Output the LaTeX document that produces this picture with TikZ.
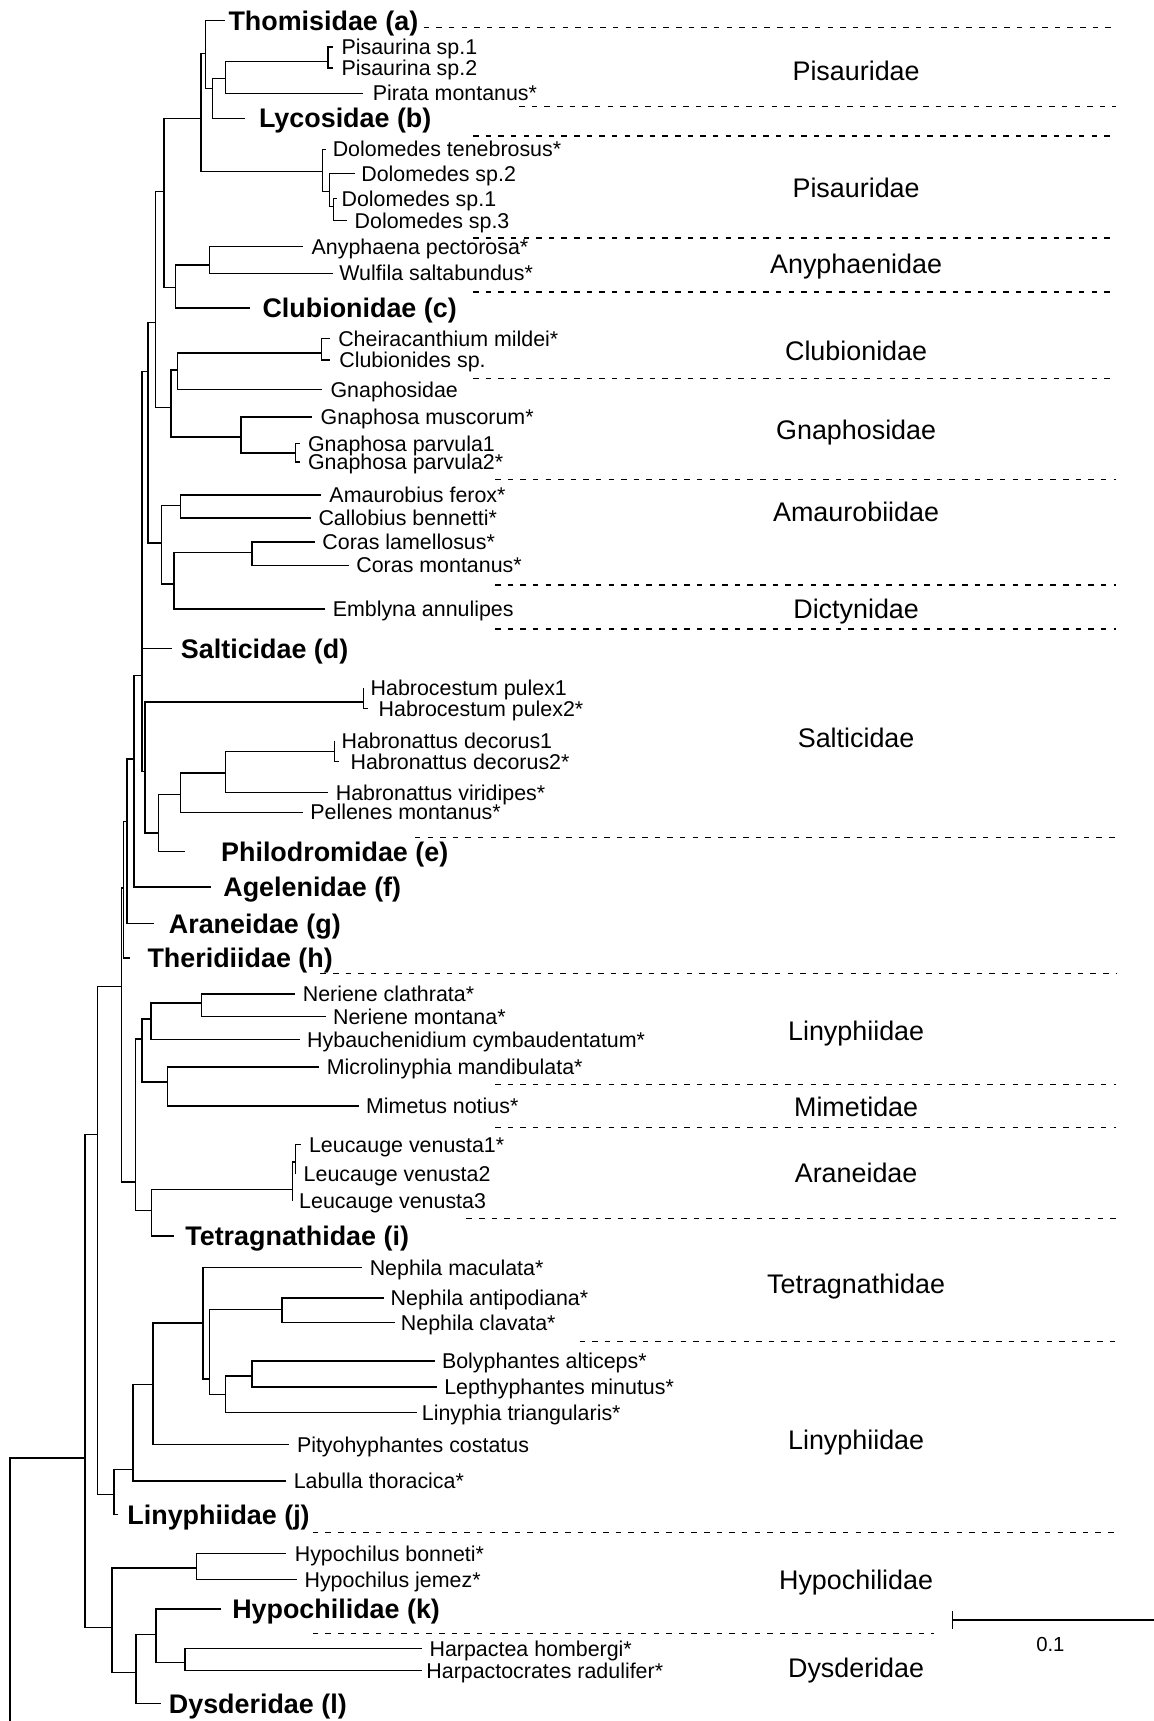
\documentclass[tikz,border=0pt]{standalone}
\usepackage{fontspec}
\setmainfont{Liberation Sans}
\newcommand\mkleaf[6]{\coordinate (#1) at (#2,#4); \node[#5] (#1L) at (#3,#4) {#6};}
\newcommand\mksep[4]{\coordinate (#1s) at (#2,#3); \coordinate (#1e) at (#4,#3); \draw[sepline] (#1s) -- (#1e);}
\begin{document}
\begin{tikzpicture}[x=1pt,y=-1pt,
  br/.style={line width=1.3pt},
  sepline/.style={line width=1.3pt, dash pattern=on 5pt off 6.5pt},
  sp/.style={anchor=base west, inner sep=0pt, font=\fontsize{19.5}{21}\selectfont, yshift=-7pt},
  fam/.style={anchor=base west, inner sep=0pt, font=\fontsize{24.5}{26}\selectfont\bfseries, yshift=-8.8pt},
  grp/.style={anchor=base, inner sep=0pt, font=\fontsize{24.5}{26}\selectfont, yshift=-8.8pt},
  sbl/.style={anchor=base, inner sep=0pt, font=\fontsize{18.5}{20}\selectfont, yshift=-6.6pt}]
\fill[white] (0,0) rectangle (1051,1568);
\useasboundingbox (0,0) rectangle (1051,1568);
% internal nodes
\coordinate (r0) at (9,1568);
\coordinate (K) at (77.3,1328.2);
\coordinate (I) at (88.6,1033.7);
\coordinate (H) at (110.6,898.6);
\coordinate (G) at (112.5,809);
\coordinate (F) at (115.9,748.3);
\coordinate (E) at (122,691.5);
\coordinate (C) at (129.5,615.3);
\coordinate (B) at (135,338.5);
\coordinate (A) at (141.5,293.9);
\coordinate (P) at (149.6,174.6);
\coordinate (N183) at (183,107.8);
\coordinate (N187) at (187,48.6);
\coordinate (N193) at (193.5,80.5);
\coordinate (PIS) at (205.3,71.3);
\coordinate (PS) at (299,56.2);
\coordinate (DOL) at (293.6,156.4);
\coordinate (D2) at (300,174.6);
\coordinate (D3) at (304,188);
\coordinate (AC) at (159.8,262);
\coordinate (ANY) at (191,241.3);
\coordinate (CG) at (155.7,371.3);
\coordinate (CHG) at (161.8,337);
\coordinate (CH) at (292.8,321.8);
\coordinate (GN) at (219.6,398.3);
\coordinate (GP) at (269.2,412.9);
\coordinate (AM) at (147.2,494.8);
\coordinate (AF) at (164.7,460.8);
\coordinate (CE) at (158.6,531.9);
\coordinate (CO) at (229.7,503.3);
\coordinate (R) at (132,702.8);
\coordinate (HB) at (331.4,639.6);
\coordinate (SN) at (144.3,759);
\coordinate (HP) at (164.7,724);
\coordinate (HN) at (205.3,704.3);
\coordinate (HDc) at (305,684.6);
\coordinate (LC) at (123.2,1076.9);
\coordinate (NL) at (129.3,946.5);
\coordinate (NH) at (137.4,928.3);
\coordinate (NN) at (183.8,913.7);
\coordinate (MM) at (152.5,985.8);
\coordinate (LT) at (138.2,1103);
\coordinate (LEU) at (266.3,1083.8);
\coordinate (L2) at (269.2,1058.6);
\coordinate (J) at (103.7,1361.6);
\coordinate (LB) at (121.2,1338.8);
\coordinate (PY) at (139.5,1261.4);
\coordinate (T) at (185,1205.3);
\coordinate (T2) at (191.1,1256.3);
\coordinate (NE) at (257,1193.1);
\coordinate (LI) at (205.3,1270.5);
\coordinate (BL) at (229.7,1253.8);
\coordinate (HDn) at (102,1483);
\coordinate (HY) at (178.9,1428.4);
\coordinate (DY) at (124,1524);
\coordinate (HK) at (142.3,1489.1);
\coordinate (HA) at (168.7,1514.9);
% leaves: name, tip x, label x, y, style, text
\mkleaf{tThom}{205.3}{208}{18.8}{fam}{Thomisidae (a)}
\mkleaf{tPis1}{303}{311}{43}{sp}{Pisaurina sp.1}
\mkleaf{tPis2}{303}{311}{62}{sp}{Pisaurina sp.2}
\mkleaf{tPir}{331}{339.5}{85}{sp}{Pirata montanus*}
\mkleaf{tLyco}{223.6}{235.8}{107.8}{fam}{Lycosidae (b)}
\mkleaf{tTen}{297}{303}{136}{sp}{Dolomedes tenebrosus*}
\mkleaf{tDsp2}{323}{329}{158}{sp}{Dolomedes sp.2}
\mkleaf{tDsp1}{307}{311}{181}{sp}{Dolomedes sp.1}
\mkleaf{tDsp3}{316}{323}{201}{sp}{Dolomedes sp.3}
\mkleaf{tAny}{276.5}{283.8}{224.5}{sp}{Anyphaena pectorosa*}
\mkleaf{tWul}{303}{309}{249}{sp}{Wulfila saltabundus*}
\mkleaf{tClub}{227.7}{239}{280.5}{fam}{Clubionidae (c)}
\mkleaf{tChe}{300.9}{308}{308.5}{sp}{Cheiracanthium mildei*}
\mkleaf{tClu}{300.9}{309}{328}{sp}{Clubionides sp.}
\mkleaf{tGnd}{293.6}{301}{355}{sp}{Gnaphosidae}
\mkleaf{tGmus}{284.6}{292}{380}{sp}{Gnaphosa muscorum*}
\mkleaf{tGp1}{273}{280.5}{404}{sp}{Gnaphosa parvula1}
\mkleaf{tGp2}{273}{280.5}{421}{sp}{Gnaphosa parvula2*}
\mkleaf{tAmau}{292.8}{300}{451}{sp}{Amaurobius ferox*}
\mkleaf{tCall}{283.4}{290}{472}{sp}{Callobius bennetti*}
\mkleaf{tCl}{286.7}{293.6}{494}{sp}{Coras lamellosus*}
\mkleaf{tCm}{318}{324.5}{515}{sp}{Coras montanus*}
\mkleaf{tEmb}{296}{303}{555}{sp}{Emblyna annulipes}
\mkleaf{tSalt}{156.5}{164.7}{591}{fam}{Salticidae (d)}
\mkleaf{tHp1}{331.4}{337.5}{627}{sp}{Habrocestum pulex1}
\mkleaf{tHp2}{335.5}{344.8}{645.5}{sp}{Habrocestum pulex2*}
\mkleaf{tHd1}{305}{311}{675}{sp}{Habronattus decorus1}
\mkleaf{tHd2}{309}{319.2}{694}{sp}{Habronattus decorus2*}
\mkleaf{tVir}{298.9}{305.8}{722}{sp}{Habronattus viridipes*}
\mkleaf{tPel}{276.5}{282.6}{740}{sp}{Pellenes montanus*}
\mkleaf{tPhil}{168.7}{201.3}{776}{fam}{Philodromidae (e)}
\mkleaf{tAgel}{191.9}{203.3}{808.1}{fam}{Agelenidae (f)}
\mkleaf{tAran}{140.3}{153.7}{841.5}{fam}{Araneidae (g)}
\mkleaf{tTher}{118}{134.2}{872.8}{fam}{Theridiidae (h)}
\mkleaf{tNc}{269.2}{275.7}{905.6}{sp}{Neriene clathrata*}
\mkleaf{tNm}{296.8}{303.3}{926}{sp}{Neriene montana*}
\mkleaf{tHyb}{273.2}{279.7}{947}{sp}{Hybauchenidium cymbaudentatum*}
\mkleaf{tMic}{290.7}{297.6}{972}{sp}{Microlinyphia mandibulata*}
\mkleaf{tMim}{327.3}{333.4}{1007.5}{sp}{Mimetus notius*}
\mkleaf{tLv1}{274.6}{281.4}{1043}{sp}{Leucauge venusta1*}
\mkleaf{tLv2}{269.2}{276.5}{1069.6}{sp}{Leucauge venusta2}
\mkleaf{tLv3}{266.3}{272.4}{1094}{sp}{Leucauge venusta3}
\mkleaf{tTet}{158.6}{168.7}{1126}{fam}{Tetragnathidae (i)}
\mkleaf{tNmac}{330.2}{336.7}{1155}{sp}{Nephila maculata*}
\mkleaf{tNant}{349.7}{355.8}{1182.5}{sp}{Nephila antipodiana*}
\mkleaf{tNcla}{359.8}{365.1}{1205}{sp}{Nephila clavata*}
\mkleaf{tBol}{396.4}{402.5}{1240}{sp}{Bolyphantes alticeps*}
\mkleaf{tLep}{397.7}{404.6}{1263.5}{sp}{Lepthyphantes minutus*}
\mkleaf{tLtri}{380.2}{384.2}{1287}{sp}{Linyphia triangularis*}
\mkleaf{tPit}{263.5}{270.4}{1316}{sp}{Pityohyphantes costatus}
\mkleaf{tLab}{260.2}{267.5}{1349.5}{sp}{Labulla thoracica*}
\mkleaf{tLinj}{107.7}{115.9}{1380}{fam}{Linyphiidae (j)}
\mkleaf{tHb}{260.2}{268.4}{1415.5}{sp}{Hypochilus bonneti*}
\mkleaf{tHj}{270.4}{277.3}{1439}{sp}{Hypochilus jemez*}
\mkleaf{tHk}{201.3}{211.4}{1466}{fam}{Hypochilidae (k)}
\mkleaf{tHh}{384.2}{391.2}{1502}{sp}{Harpactea hombergi*}
\mkleaf{tHr}{384.2}{388.3}{1522}{sp}{Harpactocrates radulifer*}
\mkleaf{tDys}{146.4}{153.7}{1552}{fam}{Dysderidae (l)}
% branches
\draw[br] (r0) |- (K);
\foreach \p/\c in {K/I, K/HDn, I/H, I/J, H/G, H/LC, G/F, G/tTher, F/E, F/tAran,
  E/C, E/tAgel, C/B, C/tSalt, C/R, B/A, B/AM, A/P, A/CG, P/N183, P/AC,
  N183/N187, N183/DOL, N187/tThom, N187/N193, N193/PIS, N193/tLyco,
  PIS/PS, PIS/tPir, PS/tPis1, PS/tPis2, DOL/tTen, DOL/D2, D2/tDsp2, D2/D3,
  D3/tDsp1, D3/tDsp3, AC/ANY, AC/tClub, ANY/tAny, ANY/tWul, CG/CHG, CG/GN,
  CHG/CH, CHG/tGnd, CH/tChe, CH/tClu, GN/tGmus, GN/GP, GP/tGp1, GP/tGp2,
  AM/AF, AM/CE, AF/tAmau, AF/tCall, CE/CO, CE/tEmb, CO/tCl, CO/tCm,
  R/HB, R/SN, HB/tHp1, HB/tHp2, SN/HP, SN/tPhil, HP/HN, HP/tPel,
  HN/HDc, HN/tVir, HDc/tHd1, HDc/tHd2, LC/NL, LC/LT, NL/NH, NL/MM,
  NH/NN, NH/tHyb, NN/tNc, NN/tNm, MM/tMic, MM/tMim, LT/LEU, LT/tTet,
  LEU/L2, LEU/tLv3, L2/tLv1, L2/tLv2, J/LB, J/tLinj, LB/PY, LB/tLab,
  PY/T, PY/tPit, T/tNmac, T/T2, T2/NE, T2/LI, NE/tNant, NE/tNcla,
  LI/BL, LI/tLtri, BL/tBol, BL/tLep, HDn/HY, HDn/DY, HY/tHb, HY/tHj,
  DY/HK, DY/tDys, HK/tHk, HK/HA, HA/tHh, HA/tHr}
  \draw[br] (\p) |- (\c);
% separators
\mksep{s1}{386}{25}{1017}
\mksep{s2}{473}{97}{1017}
\mksep{s3}{431}{124}{1017}
\mksep{s4}{431}{217}{1017}
\mksep{s5}{431}{266}{1017}
\mksep{s6}{431}{345}{1017}
\mksep{s7}{451}{437}{1017}
\mksep{s8}{451}{533}{1017}
\mksep{s9}{451}{573}{1017}
\mksep{s10}{378}{763}{1017}
\mksep{s11}{292}{887}{1017}
\mksep{s12}{451}{988}{1017}
\mksep{s13}{451}{1027}{1017}
\mksep{s14}{425}{1110}{1017}
\mksep{s15}{528}{1222}{1017}
\mksep{s16}{285}{1396}{1017}
\mksep{s17}{285}{1488}{851}
% group labels
\node[grp] (g1) at (780,65) {Pisauridae};
\node[grp] (g2) at (780,171) {Pisauridae};
\node[grp] (g3) at (780,240) {Anyphaenidae};
\node[grp] (g4) at (780,320) {Clubionidae};
\node[grp] (g5) at (780,392) {Gnaphosidae};
\node[grp] (g6) at (780,466) {Amaurobiidae};
\node[grp] (g7) at (780,555) {Dictynidae};
\node[grp] (g8) at (780,672) {Salticidae};
\node[grp] (g9) at (780,939) {Linyphiidae};
\node[grp] (g10) at (780,1008) {Mimetidae};
\node[grp] (g11) at (780,1069) {Araneidae};
\node[grp] (g12) at (780,1170) {Tetragnathidae};
\node[grp] (g13) at (780,1312) {Linyphiidae};
\node[grp] (g14) at (780,1439) {Hypochilidae};
\node[grp] (g15) at (780,1520) {Dysderidae};
% scale bar
\coordinate (sbA) at (868,1476);
\coordinate (sbB) at (1051,1476);
\coordinate (sbT1) at (868,1468);
\coordinate (sbT2) at (868,1484);
\draw[br] (sbA) -- (sbB);
\draw[br] (sbT1) -- (sbT2);
\node[sbl] (sbtext) at (957,1498) {0.1};
\end{tikzpicture}
\end{document}
